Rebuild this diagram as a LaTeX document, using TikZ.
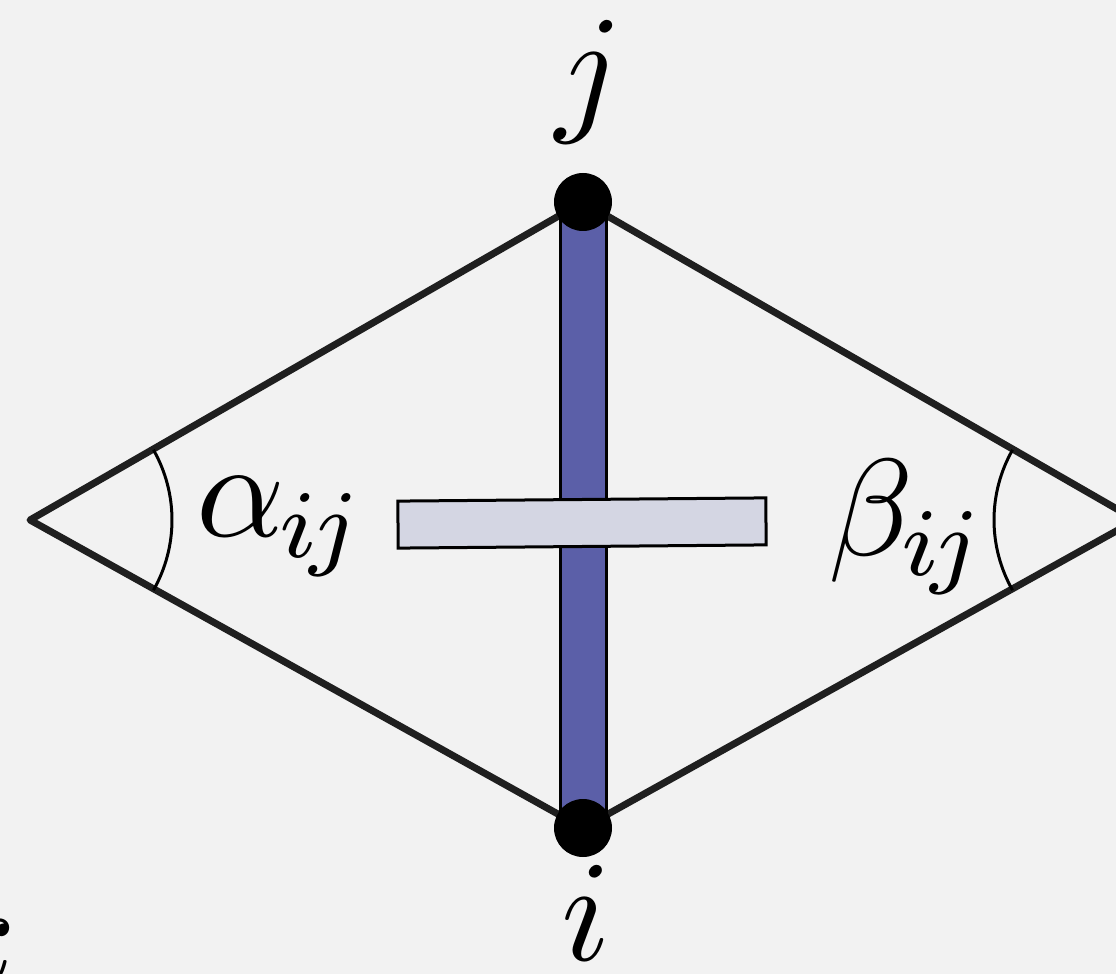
\documentclass[tikz,border=0pt]{standalone}
\usepackage{graphicx}
\newcommand{\hugelab}[1]{\scalebox{7.2}{$#1$}}
\newcommand{\anglelab}[1]{\scalebox{6.9}{$#1$}}
\newcommand{\subij}{{\mkern-1mu i\mkern-1.5mu j}}
\begin{document}
\begin{tikzpicture}[x=0.5pt,y=-0.5pt,
  edge/.style={line width=3.5pt,draw=black!88,line cap=round,line join=round},
  anglearc/.style={line width=1.5pt,draw=black},
  vert/.style={circle,fill=black,minimum size=29pt,inner sep=0pt},
  lab/.style={inner sep=0pt}]
\useasboundingbox (0,0) rectangle (1116,974);
\clip (0,0) rectangle (1116,974);
\fill[black!5] (0,0) rectangle (1116,974);
\coordinate (k) at (30,520);
\coordinate (l) at (1136,520);
\coordinate (jc) at (583,202);
\coordinate (ic) at (583,828);
% diamond edges
\draw[edge] (k) -- (jc) -- (l) -- (ic) -- cycle;
% vertical bar
\draw[line width=1.5pt,fill={rgb,255:red,91;green,95;blue,168}] (560,202) rectangle (606,828);
% horizontal bar (slightly rotated)
\node[draw,line width=1.5pt,fill={rgb,255:red,212;green,214;blue,227},minimum width=184pt,minimum height=23.5pt,inner sep=0pt,rotate=0.5] (bar) at (582,523) {};
% vertices
\node[vert] (j) at (jc) {};
\node[vert] (i) at (ic) {};
% angle arcs
\draw[anglearc] (k) ++(-29.6:142) arc[start angle=-29.6,end angle=29.6,radius=142];
\draw[anglearc] (l) ++(150.4:142) arc[start angle=150.4,end angle=209.6,radius=142];
% labels
\node[lab] (jl) at (589,82) {\hugelab{j}};
\node[lab] (il) at (586,913) {\hugelab{i}};
\node[lab,anchor=west] (al) at (196,527) {\anglelab{\alpha_\subij}};
\node[lab,anchor=west] (bl) at (828,527) {\anglelab{\beta_\subij}};
\node[lab] (kl) at (-24,932) {\hugelab{k}};
\end{tikzpicture}
\end{document}
